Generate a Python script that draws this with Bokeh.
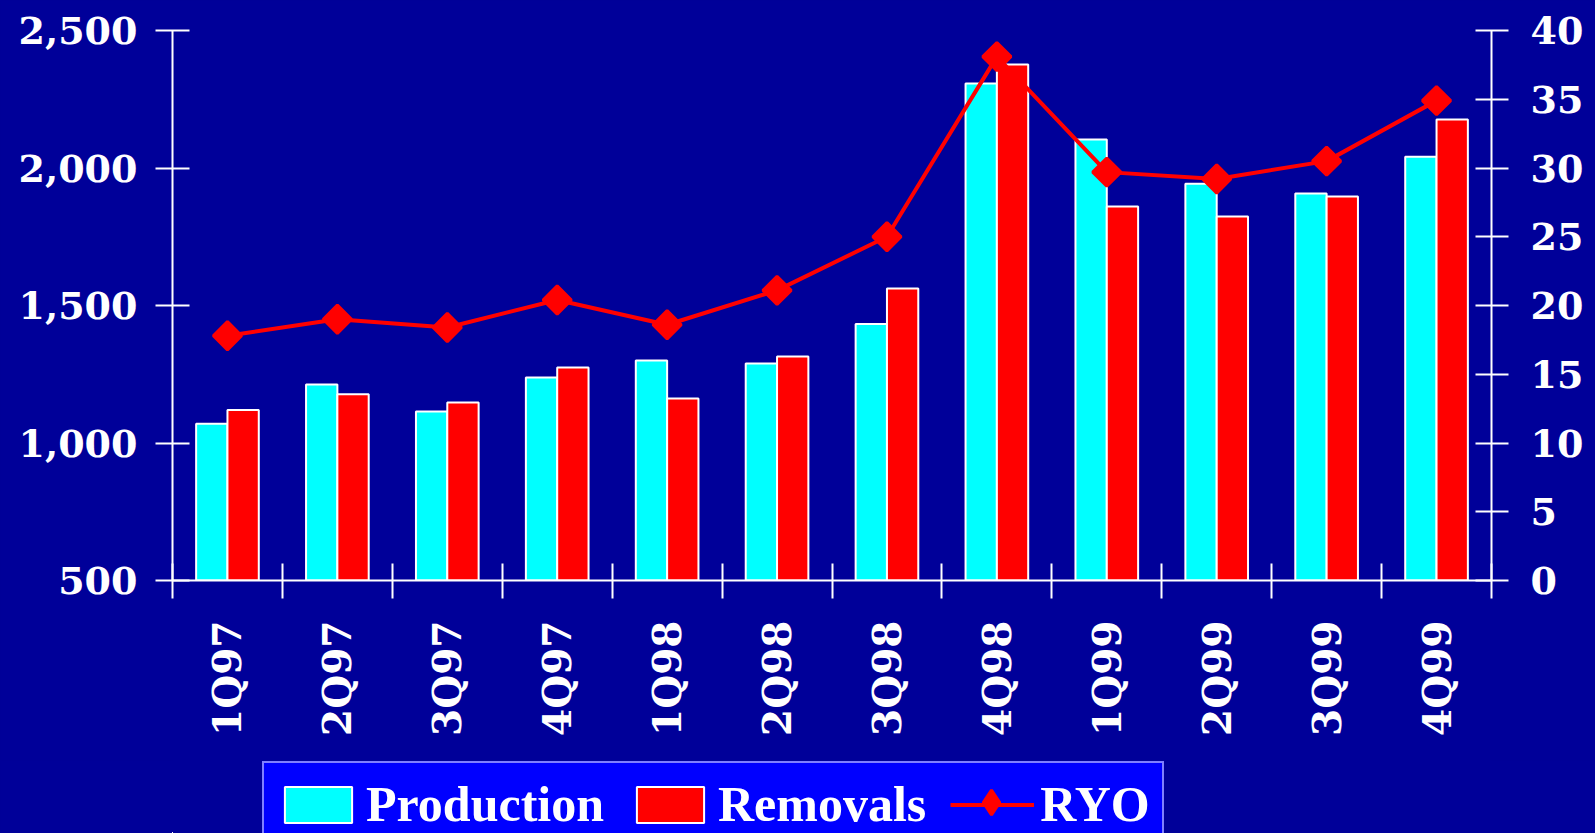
import numpy as np
from math import pi
from bokeh.plotting import figure
from bokeh.layouts import column
from bokeh.models import (ColumnDataSource, Range1d, LinearAxis, FixedTicker,
                          NumeralTickFormatter, Legend, LegendItem)
from bokeh.transform import dodge
from bokeh.embed import file_html
from bokeh.resources import INLINE

quarters = ["1Q97", "2Q97", "3Q97", "4Q97", "1Q98", "2Q98", "3Q98", "4Q98",
            "1Q99", "2Q99", "3Q99", "4Q99"]
production = [1070, 1213, 1115, 1238, 1300, 1289, 1433, 2307, 2104, 1943, 1907, 2041]
removals = [1120, 1177, 1147, 1275, 1162, 1315, 1562, 2376, 1860, 1824, 1896, 2176]
ryo = [17.8, 19.0, 18.4, 20.4, 18.6, 21.1, 25.0, 38.1, 29.7, 29.2, 30.5, 34.9]
left_ticks = [500, 1000, 1500, 2000, 2500]
right_ticks = [0, 5, 10, 15, 20, 25, 30, 35, 40]

BG = "#000099"
TICK_FONT = "DejaVu Serif"
CYAN = "#00FFFF"
RED = "#FF0000"
BGSTYLE = {"background-color": BG}

xpos = [i + 0.5 for i in range(len(quarters))]
src = ColumnDataSource(dict(x=xpos, production=production, removals=removals, ryo=ryo))

p = figure(width=1595, height=760, x_range=Range1d(0, len(quarters)),
           y_range=Range1d(500, 2500), output_backend="svg", toolbar_location=None,
           min_border_left=172, min_border_right=104, min_border_top=30,
           min_border_bottom=180, background_fill_color=BG, border_fill_color=BG,
           outline_line_color=None, styles=BGSTYLE)
p.xgrid.visible = False
p.ygrid.visible = False
p.extra_y_ranges = {"ryo": Range1d(0, 40)}

# x axis: ticks at category boundaries (minor), labels at centers (major)
xa = p.xaxis[0]
xa.ticker = FixedTicker(ticks=xpos, minor_ticks=list(range(len(quarters) + 1)))
xa.major_label_overrides = {x: q for x, q in zip(xpos, quarters)}
xa.major_tick_in = 0
xa.major_tick_out = 0
xa.minor_tick_in = 17
xa.minor_tick_out = 18
xa.minor_tick_line_color = "white"
xa.minor_tick_line_width = 2
xa.axis_line_color = "white"
xa.axis_line_width = 2
xa.major_label_orientation = pi / 2
xa.major_label_standoff = 22
xa.major_label_text_color = "white"
xa.major_label_text_font = TICK_FONT
xa.major_label_text_font_style = "bold"
xa.major_label_text_font_size = "39px"

ya = p.yaxis[0]
ya.ticker = FixedTicker(ticks=left_ticks)
ya.formatter = NumeralTickFormatter(format="0,0")
ya.major_tick_in = 17
ya.major_tick_out = 17
ya.major_tick_line_color = "white"
ya.major_tick_line_width = 2
ya.minor_tick_line_color = None
ya.axis_line_color = "white"
ya.axis_line_width = 2
ya.major_label_standoff = 18
ya.major_label_text_color = "white"
ya.major_label_text_font = TICK_FONT
ya.major_label_text_font_style = "bold"
ya.major_label_text_font_size = "38px"

ra = LinearAxis(y_range_name="ryo", ticker=FixedTicker(ticks=right_ticks))
ra.major_tick_in = 16
ra.major_tick_out = 17
ra.major_tick_line_color = "white"
ra.major_tick_line_width = 2
ra.minor_tick_line_color = None
ra.axis_line_color = "white"
ra.axis_line_width = 2
ra.major_label_standoff = 22
ra.major_label_text_color = "white"
ra.major_label_text_font = TICK_FONT
ra.major_label_text_font_style = "bold"
ra.major_label_text_font_size = "38px"
p.add_layout(ra, "right")

bw = 0.285


def draw(fig, marker="square", angle=pi / 4):
    rp = fig.vbar(x=dodge("x", -bw / 2), top="production", bottom=500, width=bw,
                  fill_color=CYAN, line_color="white", line_width=2, source=src)
    rr = fig.vbar(x=dodge("x", bw / 2), top="removals", bottom=500, width=bw,
                  fill_color=RED, line_color="white", line_width=2, source=src)
    rl = fig.line("x", "ryo", y_range_name="ryo", line_color=RED, line_width=4,
                  source=src)
    rm = fig.scatter("x", "ryo", y_range_name="ryo", marker=marker, angle=angle,
                     size=20, fill_color=RED, line_color=RED, line_width=3,
                     source=src)
    return rp, rr, rl, rm


draw(p)

# legend strip below the chart (its own glyph renderers lie outside its view)
lg = figure(width=1595, height=73, x_range=Range1d(100, 101), y_range=Range1d(5000, 5001),
            output_backend="svg", toolbar_location=None, x_axis_location=None,
            y_axis_location=None, min_border=0, background_fill_color=BG,
            border_fill_color=BG, outline_line_color=None, styles=BGSTYLE)
lg.xgrid.visible = False
lg.ygrid.visible = False
lg.extra_y_ranges = {"ryo": Range1d(5000, 5001)}
rp, rr, rl, rm = draw(lg, marker="diamond", angle=0)

legend = Legend(items=[LegendItem(label="Production", renderers=[rp]),
                       LegendItem(label="Removals", renderers=[rr]),
                       LegendItem(label="RYO", renderers=[rl])],
                orientation="horizontal", location=(90, -14), margin=0,
                padding=12, spacing=24, label_standoff=6,
                glyph_width=84, glyph_height=45,
                label_text_font="Liberation Serif", label_text_font_style="bold",
                label_text_font_size="50px", label_text_color="white",
                background_fill_color="#0000FF", background_fill_alpha=1,
                border_line_color="white", border_line_width=2)
lg.add_layout(legend, "center")

# diamond marker of the RYO key, laid over the line key
legend_mark = Legend(items=[LegendItem(label=" ", renderers=[rm])],
                     orientation="horizontal", location=(788, 0), margin=0,
                     padding=0, spacing=0, label_standoff=0,
                     glyph_width=62, glyph_height=62, label_height=1, label_width=1,
                     label_text_font_size="1px", label_text_color="white",
                     background_fill_alpha=0, border_line_color=None)
lg.add_layout(legend_mark, "center")

layout = column(p, lg, spacing=0, styles=BGSTYLE)
open("out.html", "w").write(file_html(layout, INLINE))
